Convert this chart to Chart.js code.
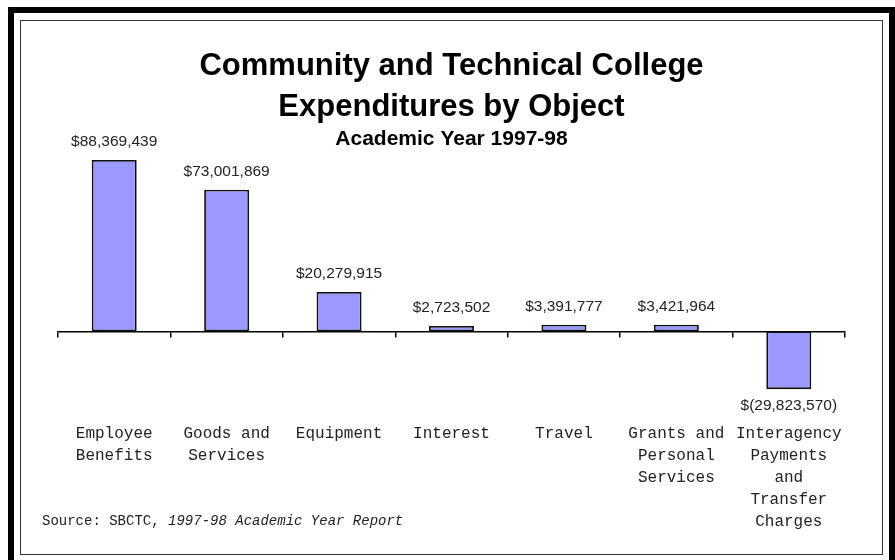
<!DOCTYPE html>
<html>
<head>
<meta charset="utf-8">
<script src="https://cdn.jsdelivr.net/npm/chart.js@4"></script>
<style>
    body { margin: 0; background: #fff; width: 895px; height: 560px; overflow: hidden; position: relative; }
    #outer { position: absolute; left: 8px; top: 7px; width: 875px; height: 600px; border: 6px solid #000; }
    #inner { position: absolute; left: 20px; top: 20px; width: 861px; height: 533px; border: 1px solid #333; }
    #chartBox { position: absolute; left: 21px; top: 21px; width: 862px; height: 534px; }
    #source { position: absolute; left: 42px; top: 513px; font: 14px "Liberation Mono", monospace; color: #222; white-space: pre; }
</style>
</head>
<body>
<div id="outer"></div>
<div id="inner"></div>
<div id="chartBox"><canvas id="chart" width="862" height="534"></canvas></div>
<div id="source">Source: SBCTC, <i>1997-98 Academic Year Report</i></div>

<script>
//данные графика
const categories = [
    ["Employee", "Benefits"],
    ["Goods and", "Services"],
    ["Equipment"],
    ["Interest"],
    ["Travel"],
    ["Grants and", "Personal", "Services"],
    ["Interagency", "Payments", "and", "Transfer", "Charges"]
];
const expenditures = [88369439, 73001869, 20279915, 2723502, 3391777, 3421964, -29823570];

//подписи над столбиками
function money(v) {
    const s = Math.abs(v).toLocaleString("en-US");
    return v < 0 ? "$(" + s + ")" : "$" + s;
}

const valueLabels = {
    id: "valueLabels",
    afterDatasetsDraw(chart) {
        const ctx = chart.ctx;
        const meta = chart.getDatasetMeta(0);
        ctx.save();
        ctx.font = '15.5px "Liberation Sans", Arial, sans-serif';
        ctx.fillStyle = "#222";
        ctx.textAlign = "center";
        ctx.textBaseline = "middle";
        meta.data.forEach((bar, i) => {
            const v = expenditures[i];
            const y = v < 0 ? bar.y + 17 : bar.y - 18;
            ctx.fillText(money(v), bar.x, y);
        });
        ctx.restore();
    }
};

const ctx = document.getElementById("chart").getContext("2d");

const myChart = new Chart(ctx, {
    type: "bar",
    data: {
        labels: categories,
        datasets: [{
            data: expenditures,
            backgroundColor: "#9999ff",
            borderColor: "#111",
            borderWidth: 1.8,
            borderSkipped: false,
            barPercentage: 0.4,
            categoryPercentage: 1.0
        }]
    },
    options: {
        responsive: false,
        animation: false,
        layout: { padding: { left: 37, right: 38, top: 0, bottom: 20.5 } },
        plugins: {
            legend: { display: false },
            tooltip: { enabled: false },
            title: {
                display: true,
                text: ["Community and Technical College", "Expenditures by Object"],
                color: "#000",
                font: { family: '"Liberation Sans", Arial, sans-serif', size: 31, weight: "bold", lineHeight: "41px" },
                padding: { top: 25, bottom: 0 }
            },
            subtitle: {
                display: true,
                text: "Academic Year 1997-98",
                color: "#000",
                font: { family: '"Liberation Sans", Arial, sans-serif', size: 21, weight: "bold", lineHeight: "22px" },
                padding: { top: 0, bottom: 0 }
            }
        },
        scales: {
            x: {
                position: "bottom",
                grid: { display: false, drawTicks: false },
                border: { display: false },
                ticks: {
                    color: "#222",
                    padding: 2,
                    maxRotation: 0,
                    autoSkip: false,
                    font: { family: '"Liberation Mono", monospace', size: 16, lineHeight: "22px" }
                }
            },
            //ось на нуле с засечками
            x2: {
                type: "category",
                position: { y: 0 },
                offset: true,
                grid: { display: true, drawOnChartArea: false, drawTicks: true, tickLength: 5, color: "#000", lineWidth: 1.5, offset: true },
                border: { display: true, color: "#000", width: 1.5 },
                ticks: { display: false }
            },
            y: {
                display: false,
                min: -46000000,
                max: 93500000
            }
        }
    },
    plugins: [valueLabels]
});
</script>
</body>
</html>
